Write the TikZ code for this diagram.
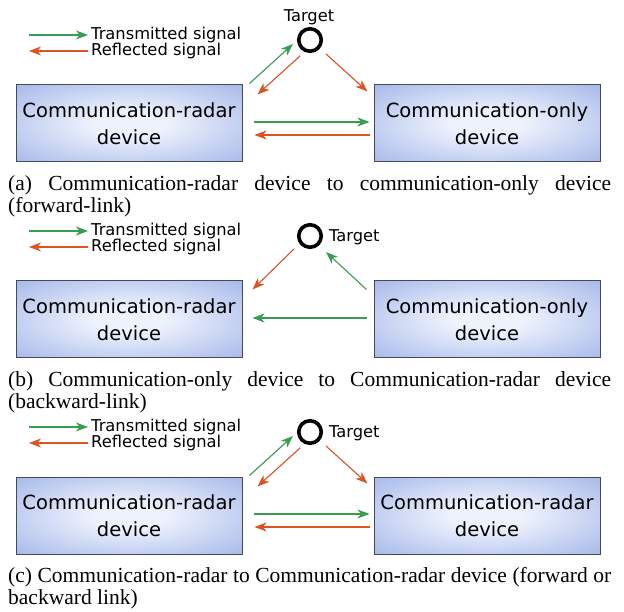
\documentclass[tikz,border=0pt]{standalone}
\usepackage{fontspec}
\setmainfont{Liberation Serif}
\newfontfamily\devfont{DejaVu Sans}
\usetikzlibrary{arrows.meta,calc}

\definecolor{txgreen}{RGB}{58,156,80}
\definecolor{rxorange}{RGB}{218,84,36}
\definecolor{devin}{RGB}{238,242,253}
\definecolor{devout}{RGB}{140,164,226}
\definecolor{devedge}{RGB}{70,74,86}

\pgfdeclareradialshading{devshade}{\pgfpoint{0bp}{0bp}}{%
  color(0bp)=(devin); color(8bp)=(devin); color(46bp)=(devout); color(80bp)=(devout)}

\tikzset{
  device/.style={draw=devedge, line width=1pt, shading=devshade,
    minimum width=226pt, minimum height=77pt, inner sep=0pt, align=center,
    font=\devfont\fontsize{19.5}{27}\selectfont},
  target/.style={circle, draw=black, line width=3.6pt, minimum size=22.5pt, inner sep=0pt},
  label/.style={font=\devfont\fontsize{16.3}{18}\selectfont, inner sep=0pt},
  legendtext/.style={font=\devfont\fontsize{16.3}{18}\selectfont, inner sep=3pt, anchor=west},
  tip/.style={-{Stealth[length=12pt,width=9pt,inset=3.5pt]}},
  tx/.style={tip, draw=txgreen, fill=txgreen, line width=1.1pt},
  rx/.style={tip, draw=rxorange, fill=rxorange, line width=1.1pt},
  captionline/.style={font=\fontsize{21.5}{22}\selectfont, inner sep=0pt, anchor=base west}
}

\newcommand\legendpair[1]{%
  \coordinate (#1g) at (29,35);
  \coordinate (#1r) at (29,51);
  \node[legendtext] (#1lt) at (88,35) {Transmitted signal};
  \node[legendtext] (#1lr) at (88,51) {Reflected signal};
  \draw[tx] (#1g) -- (#1lt.west);
  \draw[rx] (#1lr.west) -- (#1r);
}

\begin{document}
\begin{tikzpicture}[x=1pt,y=-1pt]
\useasboundingbox (0,0) rectangle (624,612);

% (a) forward link
\begin{scope}
  \legendpair{a}
  \node[device] (aL) at (129,123.5) {Communication-radar\\device};
  \node[device] (aR) at (487,123.5) {Communication-only\\device};
  \node[target] (aT) at (310,40) {};
  \node[label, anchor=base] (aTl) at (309,21.5) {Target};
  \draw[tx] ($(aL.north east)+(7,-1)$) -- ($(aT)+(-17,4)$);
  \draw[rx] ($(aT)+(-10,16)$) -- ($(aL.north east)+(15,10)$);
  \draw[rx] ($(aT)+(16,14)$) -- ($(aR.north west)+(-6,7)$);
  \draw[tx] ($(aL.east)+(11,-1.5)$) -- ($(aR.west)+(-4,-1.5)$);
  \draw[rx] ($(aR.west)+(-4,11.5)$) -- ($(aL.east)+(12,11.5)$);
  \node[captionline] (aC1) at (8,190.5)
    {\makebox[603pt][s]{(a) Communication-radar device to communication-only device}};
  \node[captionline] (aC2) at (8,212.5) {(forward-link)};
\end{scope}

% (b) backward link
\begin{scope}[shift={(0,196)}]
  \legendpair{b}
  \node[device] (bL) at (129,123.5) {Communication-radar\\device};
  \node[device] (bR) at (487,123.5) {Communication-only\\device};
  \node[target] (bT) at (310,40) {};
  \node[label, anchor=base west] (bTl) at (329,45.5) {Target};
  \draw[rx] ($(bT)+(-16,13)$) -- ($(bL.north east)+(10,9)$);
  \draw[tx] ($(bR.north west)+(-7,9)$) -- ($(bT)+(16,16)$);
  \draw[tx] ($(bR.west)+(-7,-1.5)$) -- ($(bL.east)+(10,-1.5)$);
  \node[captionline] (bC1) at (8,190.5)
    {\makebox[603pt][s]{(b) Communication-only device to Communication-radar device}};
  \node[captionline] (bC2) at (8,212.5) {(backward-link)};
\end{scope}

% (c) forward or backward link
\begin{scope}[shift={(0,392)}]
  \legendpair{c}
  \node[device] (cL) at (129,123.5) {Communication-radar\\device};
  \node[device] (cR) at (487,123.5) {Communication-radar\\device};
  \node[target] (cT) at (310,40) {};
  \node[label, anchor=base west] (cTl) at (329,45.5) {Target};
  \draw[tx] ($(cL.north east)+(7,-1)$) -- ($(cT)+(-17,4)$);
  \draw[rx] ($(cT)+(-10,16)$) -- ($(cL.north east)+(15,10)$);
  \draw[rx] ($(cT)+(16,14)$) -- ($(cR.north west)+(-6,7)$);
  \draw[tx] ($(cL.east)+(11,-1.5)$) -- ($(cR.west)+(-4,-1.5)$);
  \draw[rx] ($(cR.west)+(-4,11.5)$) -- ($(cL.east)+(12,11.5)$);
  \node[captionline] (cC1) at (8,190.5)
    {\makebox[603pt][s]{(c) Communication-radar to Communication-radar device (forward or}};
  \node[captionline] (cC2) at (8,212.5) {backward link)};
\end{scope}
\end{tikzpicture}
\end{document}
